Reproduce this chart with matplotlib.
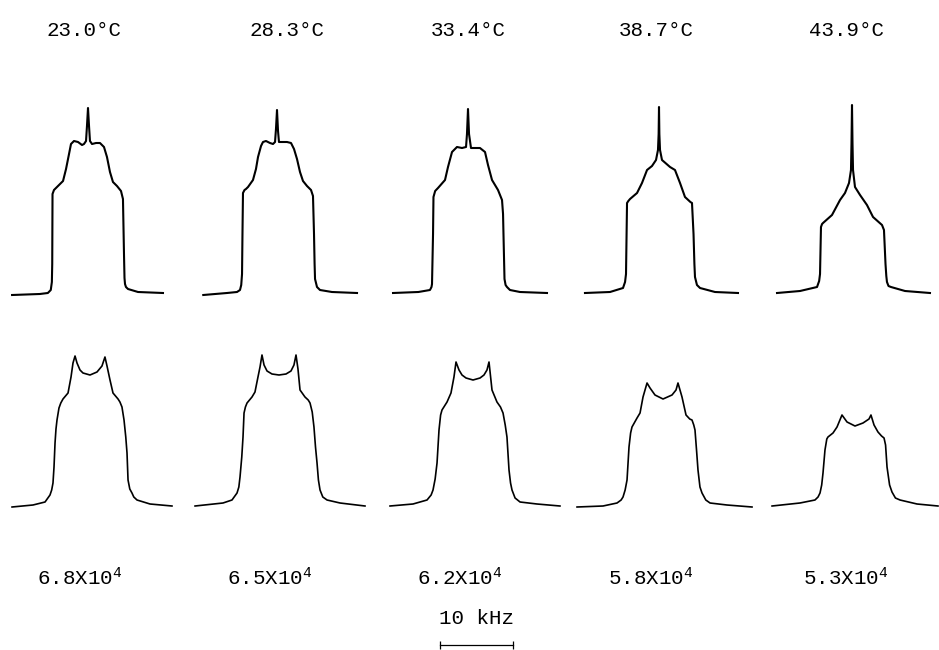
import matplotlib
matplotlib.use("Agg")
import matplotlib.pyplot as plt
import numpy as np

plt.rcParams['font.family'] = ['Liberation Mono', 'DejaVu Sans Mono']
plt.rcParams['mathtext.fontset'] = 'custom'
plt.rcParams['mathtext.rm'] = 'Liberation Mono'
plt.rcParams['mathtext.it'] = 'Liberation Mono'

# temperatures (top labels) and bottom labels
temps = ['23.0', '28.3', '33.4', '38.7', '43.9']
bottom_labels = ['6.8', '6.5', '6.2', '5.8', '5.3']

# experimental spectra (upper row), freq in kHz, intensity arb. units
exp_freq = [
    [-10.4, -6.6, -5.5, -5.1, -4.95, -4.9, -4.86, -4.66, -4.11, -3.42, -3.01, -2.6, -2.33, -1.92,
     -1.37, -0.82, -0.55, -0.27, -0.14, 0.0, 0.14, 0.27, 0.55, 1.1, 1.64, 2.19, 2.6, 3.01, 3.42,
     3.97, 4.52, 4.79, 4.93, 5.0, 5.07, 5.2, 5.48, 6.85, 10.27],
    [-10.1, -6.85, -5.48, -5.07, -4.9, -4.79, -4.73, -4.66, -4.45, -4.25, -3.97, -3.29, -2.88,
     -2.6, -2.19, -1.92, -1.51, -0.96, -0.55, -0.27, -0.14, 0.0, 0.14, 0.27, 0.68, 1.37, 1.92,
     2.33, 2.74, 3.15, 3.56, 4.11, 4.66, 4.93, 5.07, 5.15, 5.21, 5.48, 5.89, 7.53, 10.96],
    [-10.27, -6.8, -5.21, -5.0, -4.93, -4.79, -4.73, -4.5, -4.11, -3.15, -2.74, -2.19, -1.51,
     -0.82, -0.27, -0.14, 0.0, 0.14, 0.41, 1.64, 2.33, 2.74, 3.29, 4.11, 4.66, 4.8, 4.86, 5.0,
     5.15, 5.34, 5.75, 7.12, 10.82],
    [-10.14, -6.71, -4.93, -4.65, -4.52, -4.38, -4.2, -3.97, -3.01, -2.33, -1.64, -0.96, -0.41,
     -0.14, -0.05, 0.0, 0.05, 0.14, 0.41, 1.51, 2.19, 2.88, 3.56, 4.3, 4.52, 4.73, 4.85, 4.93,
     5.2, 5.62, 7.67, 10.82],
    [-10.27, -7.12, -4.79, -4.5, -4.38, -4.25, -4.1, -3.97, -2.74, -1.64, -0.96, -0.41, -0.14,
     -0.07, 0.0, 0.07, 0.14, 0.41, 1.1, 2.05, 2.88, 4.11, 4.38, 4.59, 4.7, 4.79, 5.0, 5.34, 7.26,
     10.68],
]
exp_int = [
    [-1, 0, 1, 4, 12, 30, 100, 104, 108, 113, 125, 140, 150, 153,
     152, 149, 150, 153, 168, 186, 168, 153, 150, 151, 151, 147, 137, 122, 112,
     108, 103, 95, 40, 16, 10, 7, 5, 2, 1],
    [-1, 1, 2, 4, 9, 20, 60, 101, 104, 105, 107, 114, 125,
     137, 148, 152, 153, 151, 150, 152, 165, 184, 163, 152, 152, 152, 151,
     145, 135, 122, 113, 108, 104, 98, 60, 30, 15, 7, 4, 2, 1],
    [1, 2, 4, 7, 10, 60, 97, 103, 106, 114, 127, 142, 147,
     146, 147, 160, 185, 160, 146, 146, 142, 129, 114, 104, 94, 80, 60, 15,
     9, 7, 4, 2, 1],
    [1, 2, 6, 12, 20, 91, 93, 95, 101, 111, 124, 128, 134,
     144, 160, 187, 160, 144, 134, 127, 124, 111, 97, 92, 91, 60, 30, 17,
     9, 6, 2, 1],
    [1, 3, 7, 13, 20, 67, 70, 71, 79, 94, 101, 111, 124,
     150, 189, 150, 124, 107, 99, 89, 77, 69, 64, 30, 18, 12, 8, 7, 3,
     1],
]

# simulated spectra (lower row)
sim_freq = [
    [-10.68, -7.81, -6.16, -5.48, -5.25, -5.07, -4.93, -4.79, -4.66, -4.52, -4.25, -4.0, -3.7,
     -3.01, -2.6, -2.33, -2.05, -1.78, -1.37, -0.96, 0.0, 0.96, 1.64, 2.05, 2.33, 2.74, 3.15,
     3.84, 4.1, 4.38, 4.66, 4.9, 5.07, 5.21, 5.45, 5.75, 6.0, 6.44, 8.22, 11.23],
    [-11.5, -7.67, -6.44, -5.75, -5.5, -5.34, -5.1, -4.93, -4.79, -4.6, -4.38, -3.7, -3.29,
     -2.88, -2.6, -2.33, -2.05, -1.64, -0.96, 0.0, 0.96, 1.64, 2.05, 2.33, 2.6, 2.88, 3.56, 4.0,
     4.25, 4.55, 4.79, 5.0, 5.21, 5.4, 5.62, 6.0, 6.58, 8.36, 11.78],
    [-11.23, -8.08, -6.16, -5.6, -5.34, -5.05, -4.79, -4.52, -4.3, -4.11, -3.42, -2.88, -2.47,
     -2.19, -1.78, -1.37, -0.82, 0.14, 1.1, 1.64, 2.05, 2.33, 2.74, 3.42, 3.9, 4.25, 4.55, 4.79,
     5.07, 5.28, 5.48, 5.9, 6.58, 8.9, 12.05],
    [-11.64, -8.08, -6.16, -5.6, -5.34, -5.05, -4.79, -4.52, -4.3, -4.11, -3.42, -3.01, -2.6,
     -2.05, -1.64, -0.96, 0.14, 1.37, 1.92, 2.19, 2.74, 3.29, 3.8, 4.11, 4.35, 4.52, 4.75, 4.93,
     5.2, 5.48, 6.0, 6.58, 8.9, 12.33],
    [-11.5, -7.67, -5.62, -5.2, -4.93, -4.7, -4.52, -4.25, -4.0, -3.84, -3.15, -2.6, -1.92,
     -1.23, -0.14, 0.96, 1.78, 2.05, 2.47, 3.01, 3.5, 3.84, 4.05, 4.25, 4.6, 4.93, 5.4, 6.03,
     8.36, 11.23],
]
sim_int = [
    [0, 2, 5, 12, 17, 24, 40, 64, 78, 87, 99, 104, 108,
     114, 130, 144, 151, 144, 137, 134, 132, 135, 141, 150, 141, 127, 114,
     108, 105, 100, 87, 70, 54, 27, 18, 14, 10, 7, 3, 1],
    [1, 4, 7, 14, 20, 30, 50, 70, 94, 100, 104, 110, 115,
     130, 140, 152, 142, 136, 133, 132, 133, 136, 142, 152, 138, 117, 110, 107,
     104, 95, 80, 60, 44, 27, 17, 10, 7, 4, 1],
    [1, 3, 7, 12, 17, 28, 44, 77, 92, 97, 105, 114, 130,
     145, 137, 132, 129, 127, 129, 132, 137, 145, 117, 105, 100, 94, 82, 70,
     37, 24, 17, 9, 5, 3, 1],
    [0, 1, 4, 7, 10, 17, 27, 60, 74, 80, 89, 94, 110,
     124, 119, 112, 108, 112, 117, 124, 110, 92, 88, 87, 82, 77, 55, 37,
     20, 14, 7, 4, 2, 0],
    [1, 4, 7, 10, 14, 22, 34, 57, 68, 70, 74, 80, 92,
     85, 81, 84, 88, 92, 82, 75, 71, 69, 62, 40, 22, 15, 9, 7,
     3, 1],
]

# layout (pixels in a 939x650 figure)
W, H = 939, 650
px_per_khz = 7.3
xhalf = 12.5
ylo, yhi = -10, 200
top_centers = [88, 277, 468, 659, 852]
bot_centers = [90, 279, 472, 662, 856]
top_base, bot_base = 294, 507

fig = plt.figure(figsize=(W / 100, H / 100), dpi=100)


def panel(cx, base_y):
    w = 2 * xhalf * px_per_khz
    h = yhi - ylo
    ax = fig.add_axes([(cx - w / 2) / W, (H - base_y + ylo) / H, w / W, h / H])
    ax.set_xlim(-xhalf, xhalf)
    ax.set_ylim(ylo, yhi)
    ax.axis('off')
    return ax


for i in range(5):
    ax = panel(top_centers[i], top_base)
    ax.plot(exp_freq[i], exp_int[i], color='black', lw=1.5, solid_joinstyle='round')
    ax = panel(bot_centers[i], bot_base)
    ax.plot(sim_freq[i], sim_int[i], color='black', lw=1.2, solid_joinstyle='round')

# labels
top_label_x = [84, 287, 468, 656, 846]
bot_label_x = [80, 270, 460, 651, 846]
for i in range(5):
    fig.text(top_label_x[i] / W, 1 - 31 / H, temps[i] + '°C', ha='center',
             va='center', fontsize=15)
    fig.text(bot_label_x[i] / W, 1 - 578 / H, bottom_labels[i] + 'X10$^{4}$', ha='center',
             va='center', fontsize=15)

# 10 kHz scale bar
bar_khz = 10
sb = panel(476.5, 645)
sb.set_ylim(-5, 5)
sb.set_position([(476.5 - xhalf * px_per_khz) / W, (H - 650) / H,
                 2 * xhalf * px_per_khz / W, 10 / H])
sb.plot([-bar_khz / 2, bar_khz / 2], [0, 0], color='black', lw=0.9)
sb.plot([-bar_khz / 2, bar_khz / 2], [0, 0], ls='none', marker='|', ms=6, mew=0.9,
        color='black')
fig.text(476.5 / W, 1 - 619 / H, '10 kHz', ha='center', va='center', fontsize=15)

fig.savefig('out.png', dpi=100)
